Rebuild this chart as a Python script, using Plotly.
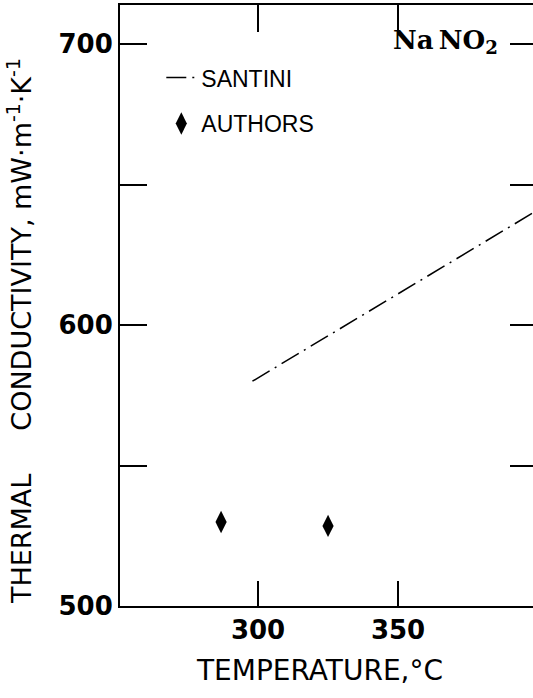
import plotly.graph_objects as go

# Data
santini_temp = [298, 400]
santini_k = [580, 641]
authors_temp = [286.8, 325.0]
authors_k = [529.9, 528.5]

x_tickvals = [300, 350]
x_ticktext = ["300", "350"]
y_tickvals = [500, 550, 600, 650, 700]
y_ticktext = ["500", "", "600", "", "700"]

x_range = [250.7, 398.2]
y_range = [500, 713.9]

TICKFONT = dict(family="DejaVu Sans", size=26, color="black", weight="bold")
XLABELFONT = dict(family="DejaVu Sans", size=28, color="black")
YLABELFONT = dict(family="DejaVu Sans", size=27, color="black")

fig = go.Figure()
fig.add_trace(go.Scatter(
    x=santini_temp, y=santini_k, mode="lines", name="SANTINI",
    line=dict(color="black", width=1.5, dash="20px,6px,2px,6px"),
    legendgroup="a",
))
fig.add_trace(go.Scatter(
    x=authors_temp, y=authors_k, mode="markers", name="AUTHORS",
    marker=dict(symbol="diamond-tall", size=16, color="black"),
    legendgroup="b",
))
# invisible trace so the mirrored axes are drawn
fig.add_trace(go.Scatter(
    x=[santini_temp[0]], y=[santini_k[0]], xaxis="x2", yaxis="y2",
    mode="markers", marker=dict(opacity=0), showlegend=False, hoverinfo="skip",
))

fig.update_layout(
    width=533, height=698,
    margin=dict(l=120, r=0, t=5, b=92),
    paper_bgcolor="white", plot_bgcolor="white",
    showlegend=True,
    legend=dict(
        x=0.1, y=0.915, xanchor="left", yanchor="top",
        font=dict(family="Liberation Sans", size=23, color="black"),
        bgcolor="rgba(0,0,0,0)", borderwidth=0,
        tracegroupgap=13, traceorder="grouped",
    ),
    xaxis=dict(
        range=x_range, tickvals=x_tickvals, ticktext=x_ticktext,
        ticks="inside", ticklen=25, tickwidth=1.5, tickcolor="black",
        showline=True, linewidth=2, linecolor="black",
        showgrid=False, zeroline=False, tickfont=TICKFONT,
        ticklabelstandoff=0,
    ),
    yaxis=dict(
        range=y_range, tickvals=y_tickvals, ticktext=y_ticktext,
        ticks="inside", ticklen=27, tickwidth=1.5, tickcolor="black",
        showline=True, linewidth=2, linecolor="black",
        showgrid=False, zeroline=False, tickfont=TICKFONT,
    ),
    xaxis2=dict(
        range=x_range, tickvals=x_tickvals, overlaying="x", side="top", anchor="y",
        ticks="inside", ticklen=27, tickwidth=1.5, tickcolor="black",
        showline=True, linewidth=2, linecolor="black",
        showgrid=False, zeroline=False, showticklabels=False,
    ),
    yaxis2=dict(
        range=y_range, tickvals=y_tickvals, overlaying="y", side="right", anchor="x",
        ticks="inside", ticklen=23, tickwidth=1.5, tickcolor="black",
        showline=False, showgrid=False, zeroline=False, showticklabels=False,
    ),
    annotations=[
        dict(text="TEMPERATURE,°C", xref="paper", yref="paper",
             x=0.484, y=-0.1065, xanchor="center", yanchor="middle",
             showarrow=False, font=XLABELFONT),
        dict(text="THERMAL\u00a0\u00a0\u00a0\u00a0\u00a0CONDUCTIVITY,\u00a0mW·m<sup>-1</sup>·K<sup>-1</sup>",
             xref="paper", yref="paper", textangle=-90,
             x=-0.242, y=0.4576, xanchor="center", yanchor="middle",
             showarrow=False, font=YLABELFONT),
        dict(text="Na\u2009NO<sub>2</sub>", xref="paper", yref="paper",
             x=0.655, y=0.9385, xanchor="left", yanchor="middle",
             showarrow=False,
             font=dict(family="DejaVu Serif", size=26, color="black", weight="bold")),
    ],
)

fig.write_html("out.html")
